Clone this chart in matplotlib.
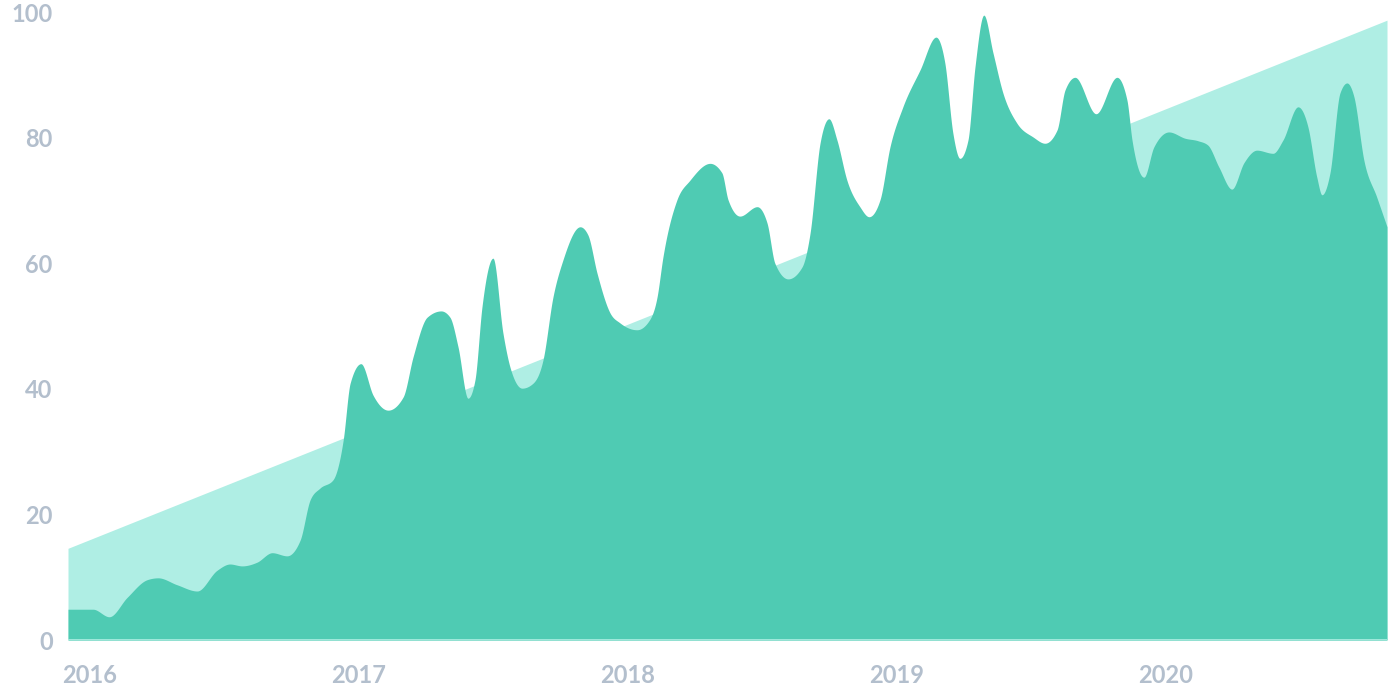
import matplotlib
matplotlib.use('Agg')
import matplotlib.pyplot as plt
import numpy as np

# decimal year, value
dates = [2015.918, 2016.011, 2016.071, 2016.138, 2016.212, 2016.253, 2016.323, 2016.398,
         2016.472, 2016.520, 2016.565, 2016.621, 2016.677, 2016.732, 2016.781, 2016.818,
         2016.855, 2016.903, 2016.941, 2016.967, 2017.007, 2017.052, 2017.108, 2017.164,
         2017.201, 2017.253, 2017.305, 2017.338, 2017.368, 2017.405, 2017.431, 2017.457,
         2017.498, 2017.535, 2017.561, 2017.606, 2017.647, 2017.684, 2017.721, 2017.758,
         2017.822, 2017.851, 2017.885, 2017.933, 2017.970, 2018.033, 2018.074, 2018.108,
         2018.130, 2018.182, 2018.230, 2018.305, 2018.349, 2018.372, 2018.416, 2018.480,
         2018.517, 2018.546, 2018.595, 2018.647, 2018.677, 2018.714, 2018.747, 2018.777,
         2018.814, 2018.862, 2018.896, 2018.937, 2018.974, 2019.022, 2019.086, 2019.145,
         2019.178, 2019.208, 2019.234, 2019.264, 2019.290, 2019.323, 2019.357, 2019.394,
         2019.446, 2019.506, 2019.550, 2019.595, 2019.625, 2019.662, 2019.740, 2019.818,
         2019.855, 2019.874, 2019.918, 2019.955, 2020.011, 2020.071, 2020.119, 2020.156,
         2020.197, 2020.245, 2020.290, 2020.338, 2020.398, 2020.435, 2020.491, 2020.528,
         2020.561, 2020.580, 2020.610, 2020.647, 2020.673, 2020.699, 2020.736, 2020.784,
         2020.822]
values = [4.9, 4.9, 3.7, 6.8, 9.6, 9.9, 8.8, 7.8,
          11.1, 12.1, 11.8, 12.4, 13.9, 13.4, 15.9, 22.3,
          24.2, 25.5, 31.8, 40.9, 44.0, 39.0, 36.6, 38.7,
          45.1, 51.4, 52.4, 51.4, 46.7, 38.5, 41.4, 53.0,
          60.8, 48.9, 43.5, 40.1, 40.9, 44.6, 54.6, 60.5,
          65.8, 64.5, 58.4, 52.1, 50.5, 49.4, 50.6, 54.6,
          61.0, 70.1, 73.2, 75.9, 74.4, 70.1, 67.5, 69.0,
          66.4, 60.0, 57.5, 59.4, 64.8, 79.1, 83.0, 79.6,
          73.2, 69.0, 67.4, 70.1, 78.5, 84.9, 90.8, 96.0,
          91.9, 80.7, 76.7, 79.6, 91.2, 99.5, 93.5, 87.1,
          82.3, 80.1, 79.1, 81.2, 87.6, 89.6, 83.8, 89.6,
          86.0, 79.6, 73.7, 78.5, 80.9, 79.9, 79.5, 78.8,
          75.3, 71.8, 76.0, 78.0, 77.5, 79.6, 84.9, 81.7,
          73.7, 70.9, 74.4, 87.1, 88.7, 86.5, 76.4, 70.5,
          65.8]

trend_dates = [2015.918, 2020.822]
trend_values = [14.6, 98.7]

years = [2016, 2017, 2018, 2019, 2020]
y_ticks = [0, 20, 40, 60, 80, 100]

DARK = '#4fcbb3'
LIGHT = '#afeee4'
LABEL = '#b3bfcd'


def monotone(x, y, n=30):
    # monotone cubic hermite (steffen / d3 curveMonotoneX)
    x = np.asarray(x, float)
    y = np.asarray(y, float)
    h = np.diff(x)
    s = np.diff(y) / h
    m = np.zeros_like(y)
    for i in range(1, len(y) - 1):
        if s[i - 1] * s[i] <= 0:
            m[i] = 0
        else:
            p = (s[i - 1] * h[i] + s[i] * h[i - 1]) / (h[i - 1] + h[i])
            m[i] = np.sign(s[i]) * min(2 * abs(s[i - 1]), 2 * abs(s[i]), abs(p))
    m[0] = (3 * s[0] - m[1]) / 2
    m[-1] = (3 * s[-1] - m[-2]) / 2
    xs, ys = [], []
    for i in range(len(h)):
        t = np.linspace(0, 1, n, endpoint=False)
        h00 = 2 * t**3 - 3 * t**2 + 1
        h10 = t**3 - 2 * t**2 + t
        h01 = -2 * t**3 + 3 * t**2
        h11 = t**3 - t**2
        xs.append(x[i] + t * h[i])
        ys.append(h00 * y[i] + h10 * h[i] * m[i] + h01 * y[i + 1] + h11 * h[i] * m[i + 1])
    xs.append([x[-1]])
    ys.append([y[-1]])
    return np.concatenate(xs), np.concatenate(ys)


fig = plt.figure(figsize=(13.92, 6.96), dpi=100)
ax = fig.add_axes([68 / 1392, 56 / 696, 1319 / 1392, 628 / 696])

ax.fill_between(trend_dates, 0, trend_values, color=LIGHT, linewidth=0)
sx, sy = monotone(dates, values)
ax.fill_between(sx, 0, sy, color=DARK, linewidth=0)
ax.axhline(0, color=LIGHT, linewidth=1.2)

ax.set_xlim(trend_dates[0], trend_dates[-1])
ax.set_ylim(0, 100)
ax.set_xticks(years)
ax.set_xticklabels([str(y) for y in years])
ax.set_yticks(y_ticks)
for sp in ax.spines.values():
    sp.set_visible(False)
ax.tick_params(length=0, colors=LABEL, labelsize=17)
ax.tick_params(axis='x', pad=17)
ax.tick_params(axis='y', pad=11)
for lab in ax.get_xticklabels() + ax.get_yticklabels():
    lab.set_fontfamily('Lato')
    lab.set_fontweight('bold')

fig.savefig('out.png', dpi=100, facecolor='white')
